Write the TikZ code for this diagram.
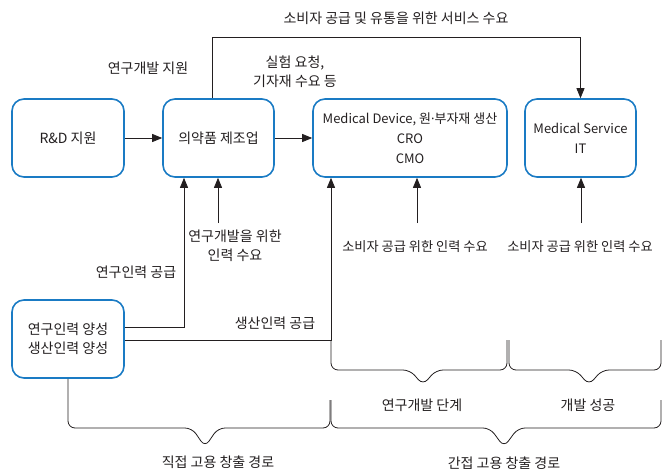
\documentclass[tikz,border=0pt]{standalone}
\usepackage{fontspec}
\setmainfont{Noto Sans CJK KR}
\newfontfamily\latinfont{Noto Sans}
\usetikzlibrary{arrows.meta}
\definecolor{boxblue}{HTML}{1A7BC4}
\definecolor{ink}{HTML}{231F20}
\begin{document}
\begin{tikzpicture}[x=1pt,y=-1pt,
 box/.style={draw=boxblue, line width=1.6pt, rounded corners=12pt, minimum height=78pt, align=center, inner sep=2pt, text=ink},
 lbl/.style={align=center, text=ink, inner sep=1pt},
 narrowlbl/.style={lbl, font=\fontsize{13.2}{19}\selectfont},
 conn/.style={draw=ink, line width=0.8pt},
 arr/.style={conn, -{Triangle[length=10pt,width=8pt]}},
 br/.style={conn, rounded corners=7pt},
 font=\fontsize{14}{19}\selectfont]
\useasboundingbox (0,0) rectangle (669,471);
% boxes
\node[box, minimum width=112pt] (rd) at (68,138) {R\&D 지원};
\node[box, minimum width=111pt] (ph) at (218.5,138) {의약품 제조업};
\node[box, minimum width=194pt, font=\fontsize{13}{20}\selectfont] (md) at (410,138) {Medical Device, 원{\latinfont ·}부자재 생산\\CRO\\CMO};
\node[box, minimum width=111pt, font=\fontsize{13}{20}\selectfont] (ms) at (580.5,138) {Medical Service\\IT};
\node[box, minimum width=112pt] (tr) at (68,339) {연구인력 양성\\생산인력 양성};
% labels
\node[lbl] (l1) at (396,18) {소비자 공급 및 유통을 위한 서비스 수요};
\node[lbl] (l2) at (148,68) {연구개발 지원};
\node[lbl] (l3) at (295,72) {실험 요청,\\기자재 수요 등};
\node[lbl] (l4) at (235,246) {연구개발을 위한\\인력 수요};
\node[lbl] (l5) at (136,272) {연구인력 공급};
\node[lbl] (l6) at (275,323) {생산인력 공급};
\node[narrowlbl] (l7) at (415,247) {소비자 공급 위한 인력 수요};
\node[narrowlbl] (l8) at (580,247) {소비자 공급 위한 인력 수요};
\node[lbl] (l9) at (422,405) {연구개발 단계};
\node[lbl] (l10) at (588,405) {개발 성공};
\node[lbl] (l11) at (218,462) {직접 고용 창출 경로};
\node[lbl] (l12) at (504,463) {간접 고용 창출 경로};
% coordinates
\coordinate (t1) at (212,37);
\coordinate (s1) at (184,327);
\coordinate (c1) at (218,223);
\coordinate (j) at (331,340);
\coordinate (c2) at (417,223);
\coordinate (c3) at (581,223);
% connectors
\draw[arr] (rd.east) -- (ph.west);
\draw[arr] (ph.east) -- (md.west);
\draw[arr] (t1 |- ph.north) -- (t1) -| (ms.north);
\draw[arr] (tr.east |- s1) -- (s1) -- (s1 |- ph.south);
\draw[arr] (c1) -- (c1 |- ph.south);
\draw[arr] (tr.east |- j) -- (j) -- (j |- md.south);
\draw[arr] (c2) -- (c2 |- md.south);
\draw[arr] (c3) -- (c3 |- ms.south);
% braces
\draw[br] (tr.south) -- (68,428) -- (192,428) -- (205,447) -- (218,428) -- (330,428) -- (330,400);
\draw[br] (331,400) -- (331,428) -- (490,428) -- (504,447) -- (518,428) -- (661,428) -- (661,400);
\draw[br] (j) -- (331,370) -- (410,370) -- (423,385) -- (436,370) -- (507,370) -- (507,340);
\draw[br] (509,340) -- (509,370) -- (576,370) -- (589,385) -- (602,370) -- (661,370) -- (661,340);
\end{tikzpicture}
\end{document}
